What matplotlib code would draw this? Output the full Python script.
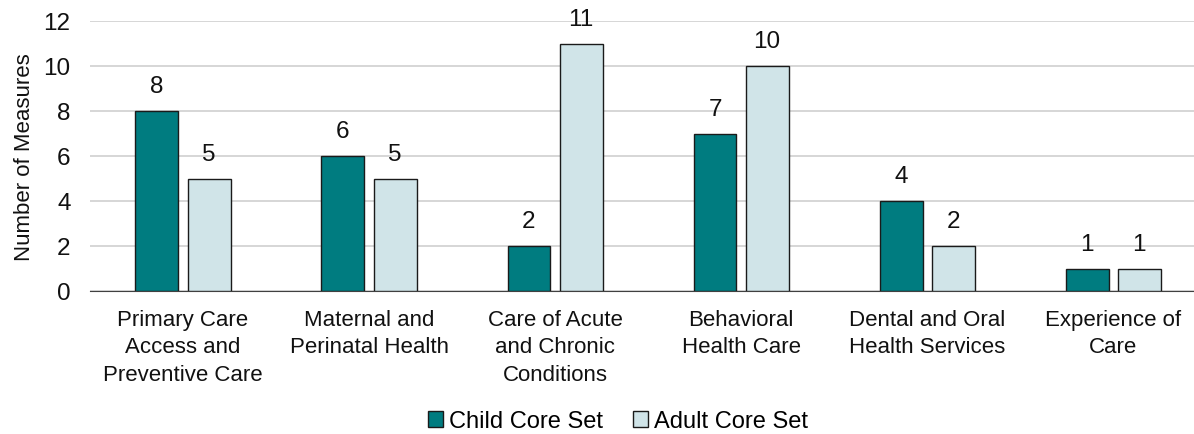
import numpy as np
from matplotlib import pyplot as plt

categories = ["Primary Care\nAccess and\nPreventive Care", "Maternal and\nPerinatal Health",
              "Care of Acute\nand Chronic\nConditions", "Behavioral\nHealth Care",
              "Dental and Oral\nHealth Services", "Experience of\nCare"]
child = [8, 6, 2, 7, 4, 1]
adult = [5, 5, 11, 10, 2, 1]

plt.rcParams['font.family'] = ['Liberation Sans', 'DejaVu Sans']

fig = plt.figure(figsize=(11.94, 4.35), dpi=100)
ax = fig.add_axes([90 / 1194, 1 - 292 / 435, 1104 / 1194, 270 / 435])

x = np.arange(len(categories))
w = 0.231
off = 0.14
b1 = ax.bar(x - off, child, w, color="#007C80", edgecolor="#1a1a1a", linewidth=1, label="Child Core Set", zorder=3)
b2 = ax.bar(x + off, adult, w, color="#D0E4E8", edgecolor="#1a1a1a", linewidth=1, label="Adult Core Set", zorder=3)

for bars in (b1, b2):
    for r in bars:
        ax.text(r.get_x() + r.get_width() / 2, r.get_height() + 0.62, str(int(r.get_height())),
                ha="center", va="bottom", fontsize=17.5, color="#111111")

ax.set_xlim(-0.5, 5.435)
ax.set_ylim(0, 12)
ax.set_yticks(range(0, 13, 2))
ax.set_xticks(x)
ax.set_xticklabels(categories, fontsize=16, color="#111111", linespacing=1.4)
ax.tick_params(axis="y", labelsize=17.5, length=0, labelcolor="#111111", pad=14)
ax.tick_params(axis="x", length=0, pad=13)
ax.yaxis.grid(True, color="#d0d0d0", linewidth=1.2, zorder=0)
ax.set_ylabel("Number of Measures", fontsize=16, color="#111111", labelpad=6)
for s in ["top", "right", "left"]:
    ax.spines[s].set_visible(False)
ax.spines["bottom"].set_color("#404040")

fig.legend(loc="lower center", bbox_to_anchor=(0.5176, -0.045), ncol=2, frameon=False, fontsize=17,
           handlelength=0.62, handleheight=0.62, handletextpad=0.25, columnspacing=1.3)

plt.savefig("out.png", dpi=100)
